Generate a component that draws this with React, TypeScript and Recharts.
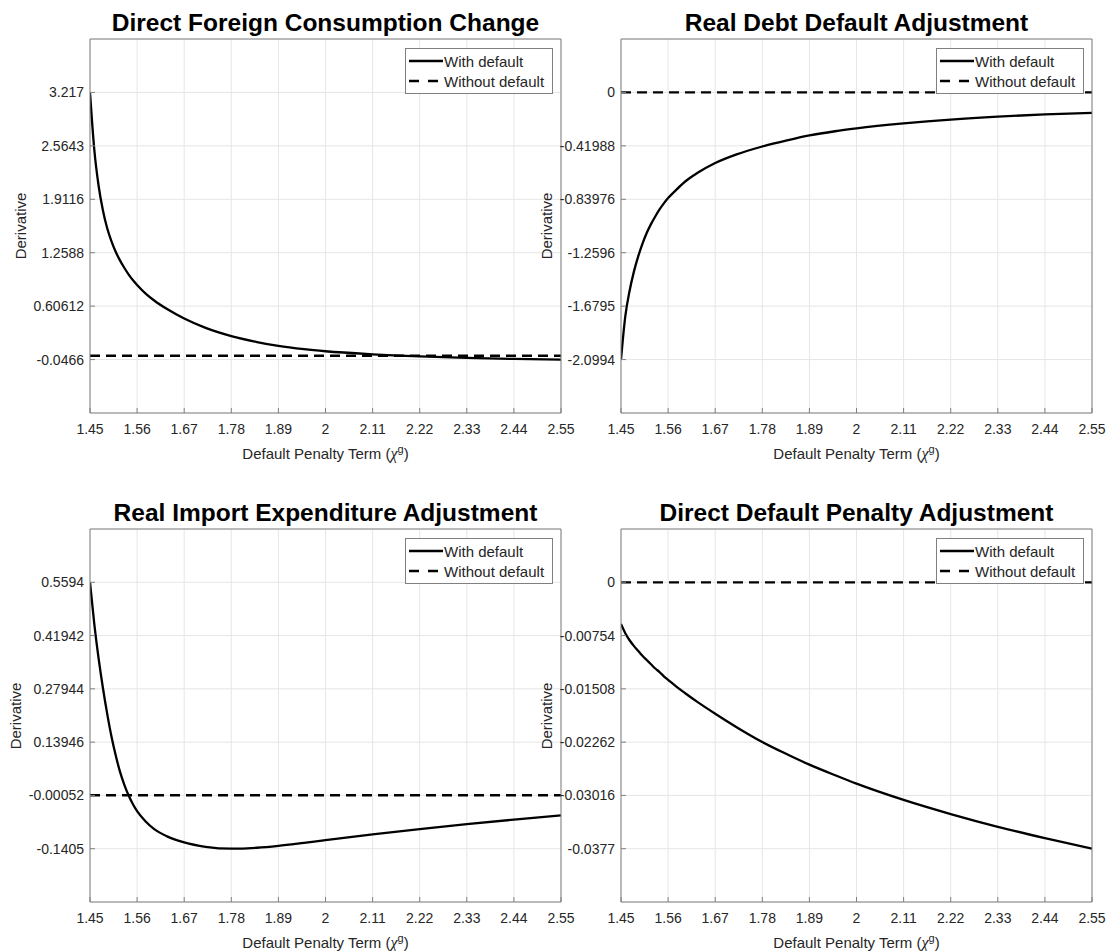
import { LineChart, Line, XAxis, YAxis, CartesianGrid, Legend } from 'recharts';

const FONT = '"Liberation Sans", Arial, Helvetica, sans-serif';
const INK = '#262626';
const BOX = '#808080';
const GRID = '#e6e6e6';

// default penalty term (chi^g)
const penaltyGrid = [
  1.45, 1.46, 1.47, 1.48, 1.49, 1.5, 1.51, 1.52, 1.53, 1.54, 1.55, 1.56, 1.58, 1.6,
  1.63, 1.67, 1.72, 1.78, 1.84, 1.89, 1.95, 2.0, 2.11, 2.22, 2.33, 2.44, 2.55,
];
const xTicks = [1.45, 1.56, 1.67, 1.78, 1.89, 2, 2.11, 2.22, 2.33, 2.44, 2.55];

const consumptionWithDefault = [
  3.217, 2.52, 2.08, 1.78, 1.56, 1.4, 1.27, 1.165, 1.075, 0.995, 0.925, 0.865, 0.76, 0.675,
  0.57, 0.455, 0.34, 0.24, 0.168, 0.12, 0.08, 0.055, 0.018, -0.008, -0.027, -0.039, -0.0466,
];
const debtWithDefault = [
  -2.0994, -1.76, -1.56, -1.41, -1.29, -1.19, -1.105, -1.035, -0.975, -0.92, -0.872, -0.83, -0.762, -0.7,
  -0.63, -0.555, -0.487, -0.425, -0.375, -0.338, -0.305, -0.283, -0.244, -0.213, -0.19, -0.173, -0.16,
];
const importWithDefault = [
  0.5594, 0.45, 0.36, 0.283, 0.215, 0.155, 0.105, 0.062, 0.028, 0.0, -0.023, -0.042, -0.069, -0.089,
  -0.108, -0.124, -0.1355, -0.1405, -0.138, -0.133, -0.125, -0.118, -0.103, -0.089, -0.076, -0.064, -0.053,
];
const penaltyWithDefault = [
  -0.0059, -0.0072, -0.0082, -0.009, -0.0097, -0.0104, -0.011, -0.0116, -0.0122, -0.0127, -0.0133, -0.0138, -0.0148, -0.0157,
  -0.017, -0.0186, -0.0205, -0.0226, -0.0244, -0.0258, -0.0273, -0.0285, -0.0308, -0.0328, -0.0346, -0.0362, -0.0377,
];

// "without default" benchmark is flat at zero
const baselineX = [1.45, 2.55];
const withoutDefault = [0, 0];

const consumptionTicks = [-0.0466, 0.60612, 1.2588, 1.9116, 2.5643, 3.217];
const debtTicks = [-2.0994, -1.6795, -1.2596, -0.83976, -0.41988, 0];
const importTicks = [-0.1405, -0.00052, 0.13946, 0.27944, 0.41942, 0.5594];
const penaltyTicks = [-0.0377, -0.03016, -0.02262, -0.01508, -0.00754, 0];

const seriesStyle: Record<string, { dash?: string; legendDash?: string }> = {
  'With default': {},
  'Without default': { dash: '10 6', legendDash: '10 9' },
};

const renderLegend = (props: any) => (
  <div
    style={{
      border: `1px solid ${BOX}`,
      background: '#fff',
      width: 146,
      padding: '2px 0',
      fontFamily: FONT,
      fontSize: 15,
      color: INK,
    }}
  >
    {(props.payload || []).map((entry: any) => (
      <div key={entry.value} style={{ display: 'flex', alignItems: 'center', height: 20 }}>
        <svg width={38} height={10} style={{ flex: 'none' }}>
          <line
            x1={3}
            x2={37}
            y1={5}
            y2={5}
            stroke="#000"
            strokeWidth={2.3}
            strokeDasharray={seriesStyle[entry.value]?.legendDash}
          />
        </svg>
        <span style={{ whiteSpace: 'nowrap' }}>{entry.value}</span>
      </div>
    ))}
  </div>
);

type PanelProps = {
  title: string;
  values: number[];
  ticks: number[];
  left: number;
  top: number;
  width: number;
  height: number;
  yAxisWidth: number;
  marginTop: number;
  marginRight: number;
  xAxisHeight: number;
  yLabelOffset: number;
};

function Panel(p: PanelProps) {
  const rows = penaltyGrid.map((x, i) => ({ x, with: p.values[i] }));
  const baseline = baselineX.map((x, i) => ({ x, without: withoutDefault[i] }));
  const step = p.ticks[1] - p.ticks[0];
  const domain = [p.ticks[0] - step, p.ticks[p.ticks.length - 1] + step];

  const plotLeft = p.yAxisWidth;
  const plotRight = p.width - p.marginRight;
  const plotTop = p.marginTop;
  const plotBottom = p.height - p.xAxisHeight;
  const plotW = plotRight - plotLeft;
  const plotH = plotBottom - plotTop;

  return (
    <div style={{ position: 'absolute', left: p.left, top: p.top, width: p.width, height: p.height }}>
      <LineChart
        width={p.width}
        height={p.height}
        margin={{ top: p.marginTop, right: p.marginRight, bottom: 0, left: 0 }}
      >
        <CartesianGrid stroke={GRID} />
        <XAxis
          dataKey="x"
          type="number"
          domain={[1.45, 2.55]}
          ticks={xTicks}
          interval={0}
          allowDataOverflow
          height={p.xAxisHeight}
          stroke={BOX}
          tickSize={-5}
          tickMargin={16}
          tick={{ fill: INK, fontSize: 14, fontFamily: FONT }}
        />
        <XAxis
          xAxisId="top"
          dataKey="x"
          type="number"
          orientation="top"
          mirror
          domain={[1.45, 2.55]}
          ticks={xTicks}
          interval={0}
          allowDataOverflow
          stroke={BOX}
          tickSize={5}
          tick={false}
        />
        <YAxis
          type="number"
          domain={domain}
          ticks={p.ticks}
          interval={0}
          allowDataOverflow
          width={p.yAxisWidth}
          stroke={BOX}
          tickSize={-5}
          tickMargin={11}
          tick={{ fill: INK, fontSize: 14, fontFamily: FONT }}
        />
        <YAxis
          yAxisId="right"
          type="number"
          orientation="right"
          mirror
          domain={domain}
          ticks={p.ticks}
          interval={0}
          allowDataOverflow
          stroke={BOX}
          tickSize={5}
          tick={false}
        />
        <Legend
          layout="vertical"
          align="center"
          verticalAlign="middle"
          content={renderLegend}
          wrapperStyle={{ top: plotTop + 9, left: plotRight - 8 - 148, width: 148, height: 'auto' }}
        />
        <Line
          data={rows}
          dataKey="with"
          name="With default"
          type="monotone"
          stroke="#000"
          strokeWidth={2.3}
          dot={false}
          activeDot={false}
          isAnimationActive={false}
        />
        <Line
          data={baseline}
          dataKey="without"
          name="Without default"
          type="linear"
          stroke="#000"
          strokeWidth={2.3}
          strokeDasharray={seriesStyle['Without default'].dash}
          dot={false}
          activeDot={false}
          isAnimationActive={false}
        />
      </LineChart>
      <div
        style={{
          position: 'absolute',
          left: plotLeft,
          width: plotW,
          top: plotTop - 16,
          transform: 'translateY(-50%)',
          textAlign: 'center',
          fontFamily: FONT,
          fontWeight: 'bold',
          fontSize: 24.5,
          lineHeight: 1,
          color: '#000',
          whiteSpace: 'nowrap',
        }}
      >
        {p.title}
      </div>
      <div
        style={{
          position: 'absolute',
          left: plotLeft,
          width: plotW,
          top: plotBottom + 40,
          transform: 'translateY(-50%)',
          textAlign: 'center',
          fontFamily: FONT,
          fontSize: 15,
          lineHeight: 1,
          color: INK,
          whiteSpace: 'nowrap',
        }}
      >
        Default Penalty Term (
        <span style={{ fontFamily: '"Liberation Serif", "DejaVu Serif", serif', fontStyle: 'italic', fontSize: 16 }}>χ</span>
        <sup style={{ fontSize: 11, verticalAlign: '0.55em' }}>g</sup>)
      </div>
      <div
        style={{
          position: 'absolute',
          left: plotLeft - p.yLabelOffset,
          top: plotTop + plotH / 2,
          transform: 'translate(-50%, -50%) rotate(-90deg)',
          fontFamily: FONT,
          fontSize: 15,
          lineHeight: 1,
          color: INK,
          whiteSpace: 'nowrap',
        }}
      >
        Derivative
      </div>
    </div>
  );
}

export default function App() {
  const leftCol = { left: 0, width: 600, yAxisWidth: 90, marginRight: 39 };
  const rightCol = { left: 531, width: 590, yAxisWidth: 90, marginRight: 29 };
  const topRow = { top: 0, height: 470, marginTop: 39, xAxisHeight: 57 };
  const bottomRow = { top: 490, height: 461, marginTop: 39, xAxisHeight: 49 };

  return (
    <div
      style={{
        position: 'absolute',
        left: 0,
        top: 0,
        width: 1107,
        height: 951,
        overflow: 'hidden',
        background: '#fff',
      }}
    >
      <Panel title="Direct Foreign Consumption Change" values={consumptionWithDefault} ticks={consumptionTicks} {...leftCol} {...topRow} yLabelOffset={70} />
      <Panel title="Real Debt Default Adjustment" values={debtWithDefault} ticks={debtTicks} {...rightCol} {...topRow} yLabelOffset={75} />
      <Panel title="Real Import Expenditure Adjustment" values={importWithDefault} ticks={importTicks} {...leftCol} {...bottomRow} yLabelOffset={75} />
      <Panel title="Direct Default Penalty Adjustment" values={penaltyWithDefault} ticks={penaltyTicks} {...rightCol} {...bottomRow} yLabelOffset={75} />
    </div>
  );
}
